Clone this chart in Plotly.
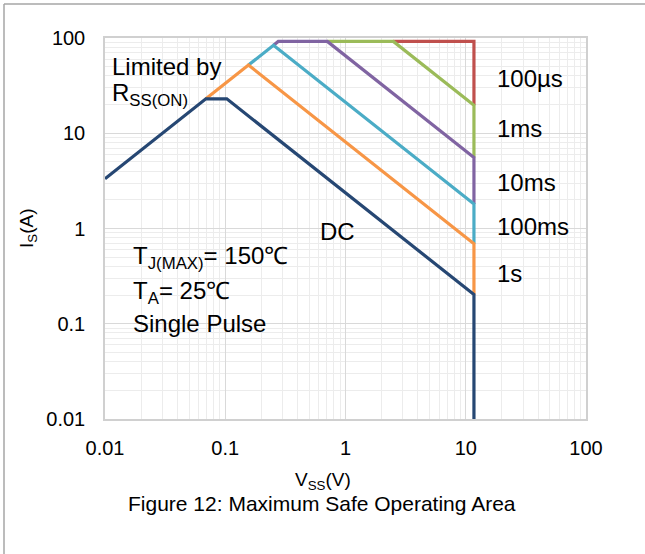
import plotly.graph_objects as go

# ---- data (V_SS in volts, I_S in amps) ----
dc_v = [0.01, 0.069, 0.103, 11.7, 11.7]
dc_i = [3.33, 23, 23, 0.2026, 0.01]
s1_v = [0.069, 0.156, 11.7, 11.7]
s1_i = [23, 52, 0.69, 0.2026]
ms100_v = [0.156, 0.252, 11.7, 11.7]
ms100_i = [52, 84, 1.81, 0.69]
ms10_v = [0.252, 0.276, 0.706, 11.7, 11.7]
ms10_i = [84, 92, 92, 5.55, 1.81]
ms1_v = [0.706, 2.5, 11.7, 11.7]
ms1_i = [92, 92, 19.7, 5.55]
us100_v = [2.5, 11.7, 11.7]
us100_i = [92, 92, 19.7]

series = [
    ("DC", dc_v, dc_i, "#264773"),
    ("1s", s1_v, s1_i, "#f79646"),
    ("100ms", ms100_v, ms100_i, "#4bacc6"),
    ("10ms", ms10_v, ms10_i, "#8064a2"),
    ("1ms", ms1_v, ms1_i, "#9bbb59"),
    ("100µs", us100_v, us100_i, "#c0504d"),
]

tick_vals = [0.01, 0.1, 1, 10, 100]
tick_text = ["0.01", "0.1", "1", "10", "100"]

W, H = 645, 554
L, R, T, B = 105, 586, 38, 419
FONT = "Liberation Sans, Arial, sans-serif"

def px(x):
    return (x - L) / (R - L)

def py(y):
    return (B - y) / (B - T)

fig = go.Figure()
for name, xs, ys, col in reversed(series):
    fig.add_trace(go.Scatter(x=xs, y=ys, mode="lines", name=name,
                             line=dict(color=col, width=3.2),
                             showlegend=False, hoverinfo="skip"))

axis_common = dict(
    type="log",
    tickvals=tick_vals, ticktext=tick_text,
    showgrid=True, gridcolor="#d9d9d9", gridwidth=1.3,
    minor=dict(dtick="D1", showgrid=True, gridcolor="#ececec", gridwidth=1.3),
    showline=True, linecolor="#d0d0d0", linewidth=1.5, mirror=True,
    ticks="outside", tickcolor="rgba(0,0,0,0)",
    tickfont=dict(family=FONT, size=20, color="#000"),
    zeroline=False,
)
fig.update_xaxes(range=[-2, 2], ticklen=10, **axis_common)
fig.update_yaxes(range=[-2, 2], ticklen=14, **axis_common)

anns = []
def add_text(x, y, text, size=24, xanchor="left"):
    anns.append(dict(x=px(x), y=py(y), xref="paper", yref="paper", text=text,
                     showarrow=False, xanchor=xanchor, yanchor="middle",
                     font=dict(family=FONT, size=size, color="#000")))

add_text(110, 66, "Limited by")
add_text(110, 94, "R<sub>SS(ON)</sub>")
add_text(495, 78, "100µs")
add_text(495, 128, "1ms")
add_text(495, 183, "10ms")
add_text(495, 226, "100ms")
add_text(495, 273, "1s")
add_text(318, 231, "DC")
add_text(131, 257, "T<sub>J(MAX)</sub>= 150℃")
add_text(131, 292, "T<sub>A</sub>= 25℃")
add_text(131, 323, "Single Pulse")
add_text(323, 481, "V<sub>SS</sub>(V)", size=19, xanchor="center")
add_text(322, 503, "Figure 12: Maximum Safe Operating Area", size=21, xanchor="center")
anns.append(dict(x=px(28), y=py(229), xref="paper", yref="paper",
                 text="I<sub>S</sub>(A)", textangle=-90, showarrow=False,
                 xanchor="center", yanchor="middle",
                 font=dict(family=FONT, size=19, color="#000")))

shapes = [
    dict(type="line", xref="paper", yref="paper", x0=px(4), x1=px(W), y0=py(4), y1=py(4),
         line=dict(color="#a6a6a6", width=1.5)),
    dict(type="line", xref="paper", yref="paper", x0=px(4), x1=px(4), y0=py(4), y1=py(H),
         line=dict(color="#a6a6a6", width=1.5)),
]

fig.update_layout(
    width=W, height=H,
    margin=dict(l=L, r=W - R, t=T, b=H - B, pad=0),
    paper_bgcolor="white", plot_bgcolor="white",
    annotations=anns, shapes=shapes,
    font=dict(family=FONT),
)

fig.write_html("out.html", config={"displayModeBar": False},
               post_script="document.body.style.margin='0';document.body.style.overflow='hidden';")
